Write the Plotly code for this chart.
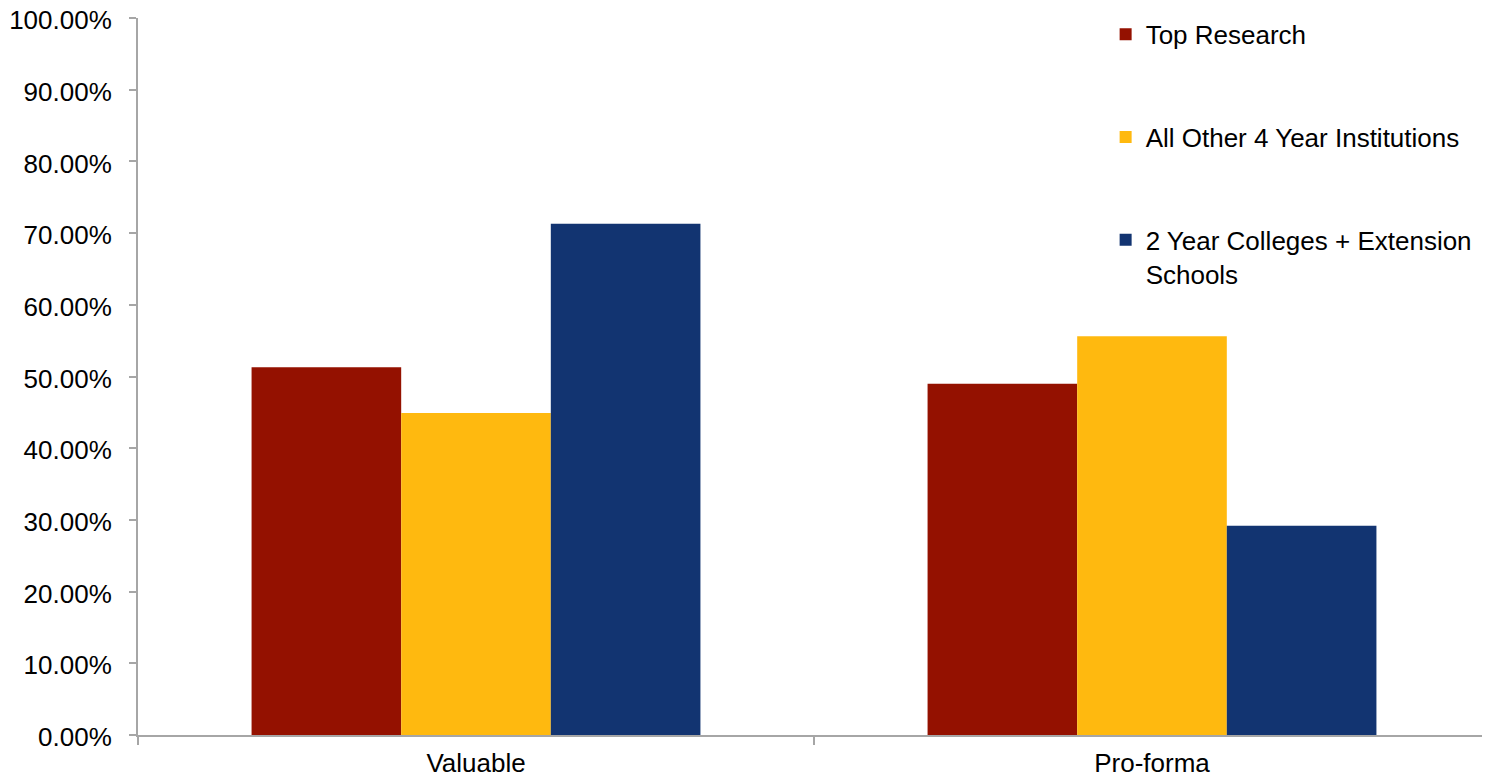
import plotly.graph_objects as go

categories = ["Valuable", "Pro-forma"]
series_names = ["Top Research", "All Other 4 Year Institutions", "2 Year Colleges + Extension<br>Schools"]
top_research = [0.513, 0.490]
other_4yr = [0.449, 0.556]
two_year = [0.713, 0.292]
colors = ["#941100", "#FFB90F", "#123471"]

fig = go.Figure()
for i, (name, vals) in enumerate(zip(series_names, [top_research, other_4yr, two_year])):
    fig.add_trace(go.Bar(
        x=categories, y=vals, name=name, marker_color=colors[i],
        marker_line_width=0, legendgroup=f"g{i}"
    ))

# page body has an 8px margin, so the figure is sized/offset to compensate
fig.update_layout(
    width=1482, height=769,
    margin=dict(l=130, r=0, t=10, b=42, autoexpand=False),
    paper_bgcolor="white", plot_bgcolor="white",
    barmode="group", bargap=0.336, bargroupgap=0,
    font=dict(family="Liberation Sans, Arial, sans-serif", size=26, color="black"),
    legend=dict(
        x=0.7157, y=1.01, xanchor="left", yanchor="top",
        traceorder="grouped", tracegroupgap=66, valign="top",
        font=dict(size=26), bgcolor="rgba(0,0,0,0)"
    ),
    xaxis=dict(
        showline=True, linecolor="#A6A6A6", linewidth=2, automargin=False,
        ticks="outside", tickson="boundaries", ticklen=8, tickcolor="#A6A6A6",
        tickwidth=1.5, showgrid=False, tickfont=dict(size=26),
        ticklabeloverflow="allow", ticklabelstandoff=4
    ),
    yaxis=dict(
        range=[0, 1], dtick=0.1, tickformat=".2%", automargin=False,
        showline=True, linecolor="#A6A6A6", linewidth=2,
        ticks="outside", ticklen=7, tickcolor="#A6A6A6", tickwidth=1.5,
        ticklabelstandoff=12, ticklabeloverflow="allow", ticklabelshift=2,
        showgrid=False, zeroline=False, tickfont=dict(size=26)
    ),
)

fig.write_html("out.html")
